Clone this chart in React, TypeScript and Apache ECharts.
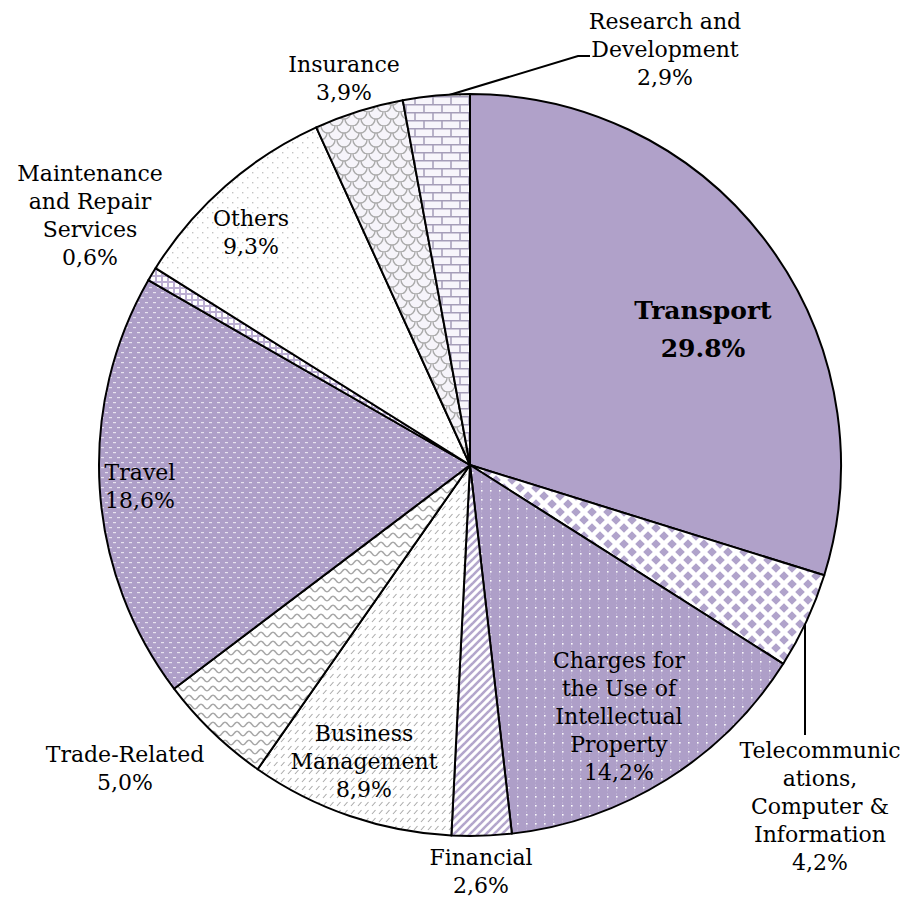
import React, { useEffect, useRef } from "react";
import * as echarts from "echarts";

const names = [
  "Transport",
  "Telecommunic\nations,\nComputer &\nInformation",
  "Charges for\nthe Use of\nIntellectual\nProperty",
  "Financial",
  "Business\nManagement",
  "Trade-Related",
  "Travel",
  "Maintenance\nand Repair\nServices",
  "Others",
  "Insurance",
  "Research and\nDevelopment",
];
const values = [29.8, 4.2, 14.2, 2.6, 8.9, 5.0, 18.6, 0.6, 9.3, 3.9, 2.9];

// label anchor (block centre) per slice
const labelPos: [number, number][] = [
  [703, 329],
  [820, 806],
  [619, 716],
  [481, 871],
  [364, 761],
  [125, 768],
  [140, 486],
  [90, 215],
  [251, 232],
  [344, 78],
  [665, 49],
];

type G = CanvasRenderingContext2D;
function pat(w: number, h: number, bg: string, draw: (g: G) => void) {
  const c = document.createElement("canvas");
  c.width = w;
  c.height = h;
  const g = c.getContext("2d") as G;
  g.fillStyle = bg;
  g.fillRect(0, 0, w, h);
  draw(g);
  return { image: c, repeat: "repeat" } as any;
}
function ln(g: G, x1: number, y1: number, x2: number, y2: number) {
  g.beginPath();
  g.moveTo(x1, y1);
  g.lineTo(x2, y2);
  g.stroke();
}
function diamond(g: G, cx: number, cy: number, r: number) {
  g.beginPath();
  g.moveTo(cx, cy - r);
  g.lineTo(cx + r, cy);
  g.lineTo(cx, cy + r);
  g.lineTo(cx - r, cy);
  g.closePath();
  g.fill();
}

function buildFills() {
  const LAV = "#B0A1C9";
  const telecom = pat(16, 16, "#fff", (g) => {
    g.fillStyle = "#B0A3CB";
    const r = 4.8;
    diamond(g, 8, 8, r);
    diamond(g, 0, 0, r);
    diamond(g, 16, 0, r);
    diamond(g, 0, 16, r);
    diamond(g, 16, 16, r);
  });
  const charges = pat(9, 9, "#AE9FC8", (g) => {
    g.fillStyle = "rgba(255,255,255,0.18)";
    g.fillRect(4, 1, 1, 2);
    g.fillRect(4, 6.5, 1, 2);
    g.fillStyle = "rgba(255,255,255,0.95)";
    g.fillRect(4, 4, 1.6, 1.6);
  });
  const financial = pat(8, 8, "#fff", (g) => {
    g.strokeStyle = "#B3A6CC";
    g.lineWidth = 2.6;
    ln(g, -1, 9, 9, -1);
    ln(g, -5, 5, 5, -5);
    ln(g, 3, 13, 13, 3);
  });
  const business = pat(7, 8, "#fff", (g) => {
    g.strokeStyle = "#ABABAB";
    g.lineWidth = 1.1;
    ln(g, 1, 6, 4.5, 2);
  });
  const trade = pat(12, 9, "#fff", (g) => {
    g.strokeStyle = "#A8A8A8";
    g.lineWidth = 1.5;
    g.beginPath();
    for (let x = -1; x <= 13; x += 0.5) {
      const y = 4.5 + 2.2 * Math.sin((2 * Math.PI * x) / 12);
      if (x === -1) g.moveTo(x, y);
      else g.lineTo(x, y);
    }
    g.stroke();
  });
  const travel = pat(8, 10, "#AE9FC8", (g) => {
    g.fillStyle = "rgba(255,255,255,0.7)";
    g.fillRect(1, 2, 3, 1.2);
    g.fillRect(5, 7, 3, 1.2);
  });
  const maint = pat(6, 6, "#BCAFD3", (g) => {
    g.fillStyle = "#fff";
    g.fillRect(1, 1, 4, 4);
  });
  const others = pat(10, 10, "#fff", (g) => {
    g.fillStyle = "#C2C2C2";
    g.fillRect(2, 2, 1.4, 1.4);
    g.fillRect(7, 7, 1.4, 1.4);
  });
  const insurance = pat(16, 14, "#F6F4FA", (g) => {
    g.strokeStyle = "#ABABAB";
    g.lineWidth = 1.4;
    const arcs: [number, number][] = [[8, 0], [0, 7], [16, 7], [8, 14]];
    arcs.forEach(([x, y]) => {
      g.beginPath();
      g.arc(x, y, 7, 0, Math.PI);
      g.stroke();
    });
  });
  const rnd = pat(18, 16, "#F7F5FB", (g) => {
    g.strokeStyle = "#A59DB8";
    g.lineWidth = 1.5;
    ln(g, 0, 0.75, 18, 0.75);
    ln(g, 0, 8.75, 18, 8.75);
    ln(g, 1, 0, 1, 8);
    ln(g, 10, 8, 10, 16);
  });
  return [LAV, telecom, charges, financial, business, trade, travel, maint, others, insurance, rnd];
}

const FONT = "'DejaVu Serif', serif";

export default function App() {
  const ref = useRef<HTMLDivElement>(null);
  useEffect(() => {
    if (!ref.current) return;
    const chart = echarts.init(ref.current, undefined, { renderer: "svg" });
    const fills = buildFills();
    const data = names.map((n, i) => ({
      name: n,
      value: values[i],
      itemStyle: { color: fills[i] },
      label:
        i === 0
          ? {
              formatter: (p: any) => `{b|${p.name}}\n{b|${p.value.toFixed(1)}%}`,
            }
          : undefined,
    }));
    chart.setOption({
      animation: false,
      backgroundColor: "#fff",
      series: [
        {
          type: "pie",
          center: [470, 465],
          radius: 371,
          startAngle: 90,
          clockwise: true,
          silent: true,
          data,
          itemStyle: { borderColor: "#000", borderWidth: 2 },
          labelLine: { show: false },
          label: {
            show: true,
            position: "inside",
            overflow: "none",
            color: "#000",
            fontFamily: FONT,
            fontSize: 22,
            lineHeight: 28,
            align: "center",
            formatter: (p: any) =>
              `${p.name}\n${p.value.toFixed(1).replace(".", ",")}%`,
            rich: {
              b: {
                fontFamily: FONT,
                fontSize: 25,
                fontWeight: "bold",
                lineHeight: 38,
                color: "#000",
              },
            },
          },
          labelLayout: (p: any) => {
            const pos = labelPos[p.dataIndex];
            return {
              x: pos[0],
              y: pos[1],
              align: "center",
              verticalAlign: "middle",
            };
          },
        },
      ],
      graphic: [
        {
          type: "polyline",
          shape: { points: [[436, 99], [578, 56], [590, 56]] },
          style: { stroke: "#000", lineWidth: 2, fill: "none" },
          silent: true,
        },
        {
          type: "polyline",
          shape: { points: [[805, 622], [805, 735]] },
          style: { stroke: "#000", lineWidth: 2, fill: "none" },
          silent: true,
        },
      ],
    });
    return () => chart.dispose();
  }, []);
  return (
    <div
      ref={ref}
      style={{ position: "fixed", left: 0, top: 0, width: 911, height: 901 }}
    />
  );
}
